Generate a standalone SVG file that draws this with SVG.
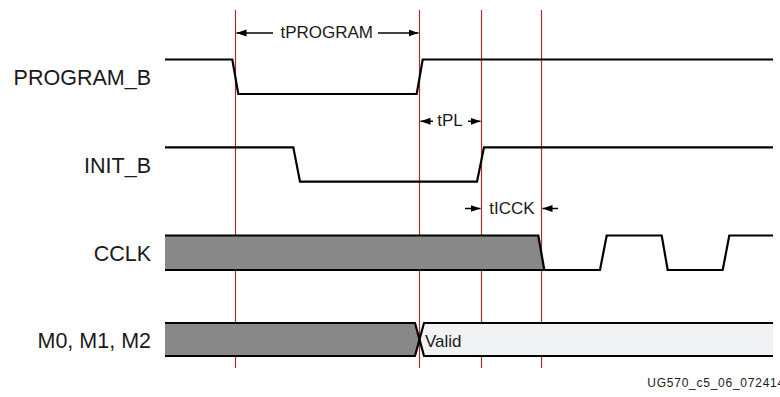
<svg xmlns="http://www.w3.org/2000/svg" width="780" height="397" viewBox="0 0 780 397">
<defs>
<marker id="ah" markerUnits="userSpaceOnUse" markerWidth="11" markerHeight="8" refX="10" refY="3.5" orient="auto">
<path d="M0,0 L10,3.5 L0,7 z" fill="#000"/>
</marker>
<style>
.lbl{font-family:"Liberation Sans",Arial,sans-serif;font-size:21.5px;fill:#1a1a1a;text-anchor:end}
.ann{font-family:"Liberation Sans",Arial,sans-serif;font-size:17px;fill:#1a1a1a}
.sig{fill:none;stroke:#000;stroke-width:2.2;stroke-linejoin:miter}
.red{stroke:#a3302e;stroke-width:1.2;fill:none}
.dim{stroke:#000;stroke-width:1.5;fill:none;marker-end:url(#ah)}
</style>
</defs>
<rect width="780" height="397" fill="#fff"/>
<g id="markers">
<line class="red" x1="235.5" y1="10" x2="235.5" y2="368"/>
<line class="red" x1="419.5" y1="10" x2="419.5" y2="368"/>
<line class="red" x1="481.5" y1="10" x2="481.5" y2="368"/>
<line class="red" x1="541.5" y1="10" x2="541.5" y2="368"/>
</g>
<g id="program_b">
<text class="lbl" x="151" y="85">PROGRAM_B</text>
<path class="sig" d="M165,59.5 H232.3 L238.3,94 H416.7 L422.7,59.5 H773"/>
</g>
<g id="init_b">
<text class="lbl" x="151" y="173.3">INIT_B</text>
<path class="sig" d="M165,147.3 H293.3 L300,181.7 H477 L484,147.3 H773"/>
</g>
<g id="cclk">
<text class="lbl" x="151" y="260.7">CCLK</text>
<polygon points="165,235.5 538.3,235.5 544.3,270 165,270" fill="#888"/>
<path class="sig" d="M165,235.5 H538.3 L544.3,270 H600 L606.7,235.5 H661.7 L667.7,270 H722.7 L729.3,235.5 H773"/>
<path class="sig" d="M165,270 H544.3"/>
</g>
<g id="mode">
<text class="lbl" x="151" y="348">M0, M1, M2</text>
<polygon points="165,323 415,323 419.5,339.5 415,356 165,356" fill="#888"/>
<polygon points="424,323 773,323 773,356 424,356 419.5,339.5" fill="#f1f2f4"/>
<path class="sig" d="M165,323 H415 L424,356 H773"/>
<path class="sig" d="M165,356 H415 L424,323 H773"/>
<text class="ann" x="425" y="346.7" font-size="16.5">Valid</text>
</g>
<g id="connectors">
<line class="dim" x1="273" y1="33" x2="236.5" y2="33"/>
<line class="dim" x1="378" y1="33" x2="418.5" y2="33"/>
<line class="dim" x1="433" y1="121.3" x2="420.5" y2="121.3"/>
<line class="dim" x1="468" y1="121.3" x2="480.5" y2="121.3"/>
<line class="dim" x1="465" y1="208.5" x2="480.5" y2="208.5"/>
<line class="dim" x1="558" y1="208.5" x2="542.5" y2="208.5"/>
<text class="ann" x="326.7" y="37.5" text-anchor="middle">tPROGRAM</text>
<text class="ann" x="437.3" y="126">tPL</text>
<text class="ann" x="489.3" y="214">tICCK</text>
</g>
<text x="647.3" y="387.3" font-family="'Liberation Sans',Arial,sans-serif" font-size="12" letter-spacing="0.75" fill="#1a1a1a">UG570_c5_06_072414</text>
</svg>
